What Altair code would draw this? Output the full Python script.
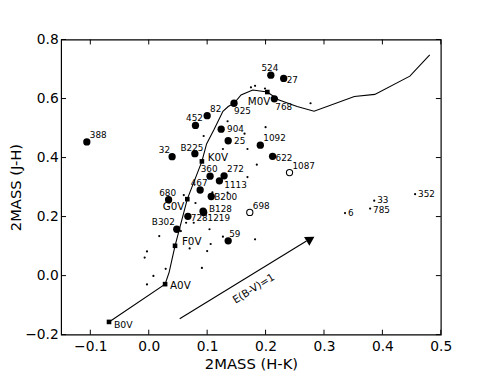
import altair as alt
import pandas as pd

# ---------------- data ----------------
# large filled circles (labelled)
big_labels = ["388", "32", "B225", "452", "82", "925", "904", "25", "524", "27", "768",
              "1092", "622", "272", "360", "1113", "467", "B200", "680", "B128", "1219",
              "728", "B302", "59"]
big_x = [-0.106, 0.040, 0.079, 0.080, 0.100, 0.146, 0.124, 0.136, 0.209, 0.231, 0.215,
         0.191, 0.212, 0.129, 0.105, 0.121, 0.088, 0.107, 0.034, 0.093, 0.094,
         0.067, 0.048, 0.136]
big_y = [0.453, 0.403, 0.413, 0.509, 0.542, 0.584, 0.496, 0.457, 0.679, 0.668, 0.599,
         0.442, 0.404, 0.338, 0.337, 0.321, 0.290, 0.268, 0.257, 0.218, 0.214,
         0.201, 0.157, 0.118]

# open circles (labelled)
open_labels = ["1087", "698"]
open_x = [0.241, 0.173]
open_y = [0.349, 0.214]

# small dots with labels
dot_labels = ["6", "33", "785", "352"]
dot_x = [0.336, 0.386, 0.379, 0.456]
dot_y = [0.212, 0.254, 0.227, 0.276]

# small dots without labels
small_x = [0.175, 0.182, 0.199, 0.277, 0.135, 0.200, 0.094, 0.164, 0.127, 0.169,
           0.185, 0.169, 0.060, 0.080, 0.109, 0.135, 0.064, 0.077, 0.055, 0.104,
           0.018, 0.127, 0.106, 0.182, -0.003, -0.007, 0.070, 0.100, 0.029, 0.008,
           0.091, -0.003]
small_y = [0.638, 0.643, 0.634, 0.584, 0.523, 0.503, 0.473, 0.481, 0.429, 0.429,
           0.376, 0.334, 0.273, 0.246, 0.282, 0.281, 0.179, 0.179, 0.151, 0.157,
           0.134, 0.132, 0.107, 0.123, 0.082, 0.061, 0.092, 0.083, 0.023, -0.001,
           0.026, -0.030]

# intrinsic main-sequence locus
type_labels = ["B0V", "A0V", "F0V", "G0V", "K0V", "M0V"]
type_x = [-0.068, 0.028, 0.045, 0.066, 0.091, 0.203]
type_y = [-0.157, -0.029, 0.101, 0.259, 0.387, 0.622]

track_x = [-0.068, 0.028, 0.035, 0.040, 0.045, 0.066, 0.091, 0.099, 0.112, 0.127,
           0.136, 0.146, 0.158, 0.178, 0.203, 0.222, 0.254, 0.283, 0.352, 0.387,
           0.447, 0.481]
track_y = [-0.157, -0.029, 0.012, 0.057, 0.101, 0.259, 0.387, 0.446, 0.496, 0.557,
           0.573, 0.584, 0.612, 0.629, 0.622, 0.596, 0.573, 0.557, 0.607, 0.614,
           0.676, 0.748]

# reddening vector
arrow_x = [0.053, 0.270]
arrow_y = [-0.146, 0.117]
head_x = [0.277]
head_y = [0.124]
arrow_text = ["E(B-V)=1"]
arrow_text_x = [0.180]
arrow_text_y = [-0.045]

x_ticks = [-0.1, 0.0, 0.1, 0.2, 0.3, 0.4, 0.5]
y_ticks = [-0.2, 0.0, 0.2, 0.4, 0.6, 0.8]

# ---------------- chart ----------------
FONT = "DejaVu Sans"
W, H = 386, 300

xscale = alt.Scale(domain=[-0.15, 0.5], nice=False, zero=False)
yscale = alt.Scale(domain=[-0.2, 0.8], nice=False, zero=False)
xaxis = alt.Axis(values=x_ticks, format=".1f", title="2MASS (H-K)", ticks=False,
                 domain=False, grid=False, labelFlush=False, labelPadding=5,
                 titlePadding=3)
yaxis = alt.Axis(values=y_ticks, format=".1f", title="2MASS (J-H)", ticks=False,
                 domain=False, grid=False, labelFlush=False, labelPadding=3,
                 titlePadding=1)


def X(field="x"):
    return alt.X(f"{field}:Q", scale=xscale, axis=xaxis)


def Y(field="y"):
    return alt.Y(f"{field}:Q", scale=yscale, axis=yaxis)


big = pd.DataFrame({"x": big_x, "y": big_y, "label": big_labels})
opn = pd.DataFrame({"x": open_x, "y": open_y, "label": open_labels})
dots = pd.DataFrame({"x": dot_x, "y": dot_y, "label": dot_labels})
small = pd.DataFrame({"x": small_x, "y": small_y})
types = pd.DataFrame({"x": type_x, "y": type_y, "label": type_labels})
track = pd.DataFrame({"x": track_x, "y": track_y, "i": list(range(len(track_x)))})
arrow = pd.DataFrame({"x": arrow_x, "y": arrow_y, "i": [0, 1]})
head = pd.DataFrame({"x": head_x, "y": head_y})
atext = pd.DataFrame({"x": arrow_text_x, "y": arrow_text_y, "label": arrow_text})
xt = pd.DataFrame({"x": x_ticks})
yt = pd.DataFrame({"y": y_ticks})

labelled = pd.concat([big, opn, dots, types], ignore_index=True)

layers = []
layers.append(alt.Chart(track).mark_line(color="black", strokeWidth=1.1).encode(
    x=X(), y=Y(), order="i:Q"))
layers.append(alt.Chart(types).mark_square(color="black", size=22, opacity=1).encode(
    x=X(), y=Y()))
layers.append(alt.Chart(small).mark_circle(color="black", size=5, opacity=1).encode(
    x=X(), y=Y()))
layers.append(alt.Chart(dots).mark_circle(color="black", size=5, opacity=1).encode(
    x=X(), y=Y()))
layers.append(alt.Chart(big).mark_circle(color="black", size=55, opacity=1).encode(
    x=X(), y=Y()))
layers.append(alt.Chart(opn).mark_point(color="black", size=40, strokeWidth=1.1,
                                         filled=False, opacity=1).encode(x=X(), y=Y()))
layers.append(alt.Chart(arrow).mark_line(color="black", strokeWidth=1.1).encode(
    x=X(), y=Y(), order="i:Q"))
layers.append(alt.Chart(head).mark_point(shape="triangle-up", angle=59, filled=True,
                                          color="black", size=110, opacity=1).encode(
    x=X(), y=Y()))
layers.append(alt.Chart(atext).mark_text(font=FONT, fontSize=10.5, angle=328,
                                          color="black").encode(
    x=X(), y=Y(), text="label:N"))

# label placement groups: (labels, align, dx, dy, fontSize)
NUM = 9
groups = [
    (["388", "82", "1092", "1087", "272", "698"], "left", 3, -7, NUM),
    (["59"], "left", 1, -7, NUM),
    (["904", "25"], "left", 6, 0, NUM),
    (["6", "352"], "left", 3, 0, NUM),
    (["33"], "left", 3, -1, NUM),
    (["785"], "left", 3, 1, NUM),
    (["27", "622", "728"], "left", 3, 2, NUM),
    (["B200"], "left", 3, 1, NUM),
    (["B128"], "left", 6, -2, NUM),
    (["1219"], "left", 4, 6, NUM),
    (["925"], "left", 0, 8, NUM),
    (["768"], "left", 1, 8, NUM),
    (["1113"], "left", 5, 4, NUM),
    (["524", "452", "360", "467", "680"], "center", -1, -7, NUM),
    (["B225"], "center", -3, -6, NUM),
    (["32", "B302"], "right", -2, -7, NUM),
    (["K0V"], "left", 6, -3, 10.5),
    (["F0V"], "left", 7, -4, 10.5),
    (["A0V"], "left", 5, 2, 10.5),
    (["B0V"], "left", 5, 3, 9.5),
    (["G0V"], "right", -3, 8, 10.5),
    (["M0V"], "right", 3, 10, 10.5),
]
for labs, align, dx, dy, fs in groups:
    layers.append(
        alt.Chart(labelled).mark_text(font=FONT, fontSize=fs, align=align,
                                      baseline="middle", dx=dx, dy=dy,
                                      color="black")
        .transform_filter(alt.FieldOneOfPredicate(field="label", oneOf=labs))
        .encode(x=X(), y=Y(), text="label:N"))

# inward ticks on all four sides
layers.append(alt.Chart(xt).mark_rule(color="black").encode(
    x=X(), y=alt.value(H), y2=alt.value(H - 5)))
layers.append(alt.Chart(xt).mark_rule(color="black").encode(
    x=X(), y=alt.value(0), y2=alt.value(5)))
layers.append(alt.Chart(yt).mark_rule(color="black").encode(
    y=Y(), x=alt.value(0), x2=alt.value(5)))
layers.append(alt.Chart(yt).mark_rule(color="black").encode(
    y=Y(), x=alt.value(W), x2=alt.value(W - 5)))

chart = alt.layer(*layers).properties(
    width=W, height=H,
    autosize=alt.AutoSizeParams(type="none"),
    padding={"left": 54, "top": 29, "right": 50, "bottom": 37},
    background="white",
).configure_view(
    stroke="black", strokeWidth=1.2
).configure_axis(
    labelFont=FONT, titleFont=FONT, labelFontSize=14, titleFontSize=15,
    titleFontWeight="normal", labelColor="black", titleColor="black",
)

chart.save("out.html", embed_options={"renderer": "svg", "actions": False})
